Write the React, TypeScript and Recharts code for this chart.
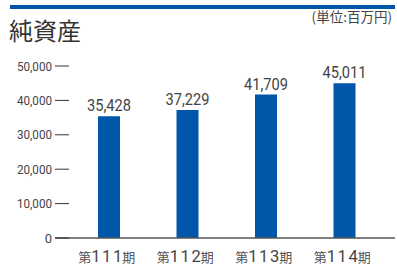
import React from 'react';
import { BarChart, Bar, XAxis, YAxis, LabelList } from 'recharts';

const periods = ['111', '112', '113', '114'];
const netAssets = [35428, 37229, 41709, 45011];
const yTicks = [0, 10000, 20000, 30000, 40000, 50000];

const data = periods.map((p, i) => ({ period: p, value: netAssets[i] }));

const fmt = (v: number) => v.toLocaleString('en-US');

const YTick = (props: any) => {
  const { x, y, payload } = props;
  const s = fmt(payload.value);
  return (
    <g>
      <text
        x={x - 3}
        y={y}
        dy={4.5}
        textAnchor="end"
        fontSize={13}
        fill="#444"
        fontFamily="Roboto"
        textLength={s.length > 1 ? 35 : undefined}
        lengthAdjust="spacingAndGlyphs"
      >
        {s}
      </text>
      <line x1={x} x2={x + 14} y1={y} y2={y} stroke="#333" strokeWidth={1} />
    </g>
  );
};

const XTick = (props: any) => {
  const { x, y, payload } = props;
  return (
    <g>
      <text x={x - 31} y={y + 23.5} fontSize={13} fill="#555" fontFamily="'Noto Sans CJK JP'">第</text>
      <text
        x={x - 18}
        y={y + 24}
        fontSize={16.5}
        fill="#444"
        fontFamily="Roboto"
        textLength={31}
        lengthAdjust="spacing"
      >
        {payload.value}
      </text>
      <text x={x + 13} y={y + 23.5} fontSize={13} fill="#555" fontFamily="'Noto Sans CJK JP'">期</text>
    </g>
  );
};

const ValueLabel = (props: any) => {
  const { x, y, width, value } = props;
  return (
    <text
      x={x + width / 2 - 22}
      y={y - 5}
      fontSize={16.5}
      fill="#444"
      fontFamily="Roboto"
      textLength={44}
      lengthAdjust="spacingAndGlyphs"
    >
      {fmt(Number(value))}
    </text>
  );
};

export default function App() {
  return (
    <div style={{ position: 'absolute', left: 0, top: 0, width: 397, height: 265, background: '#fff' }}>
      <svg width={397} height={265} style={{ position: 'absolute', left: 0, top: 0 }}>
        <rect x={10} y={5} width={385} height={4} fill="#0056a8" />
        <text x={9} y={40} fontSize={24} fill="#333" fontFamily="'Noto Sans CJK JP'">純資産</text>
        <text x={392} y={22} fontSize={13.5} fill="#444" textAnchor="end" fontFamily="'Noto Sans CJK JP'">(単位:百万円)</text>
      </svg>
      <div style={{ position: 'absolute', left: 0, top: 0 }}>
        <BarChart width={397} height={265} data={data} margin={{ top: 66, right: 2, bottom: 0, left: 0 }}>
          <YAxis
            width={55}
            domain={[0, 50000]}
            ticks={yTicks}
            axisLine={false}
            tickLine={false}
            tickSize={0}
            tickMargin={0}
            tick={<YTick />}
            interval={0}
          />
          <XAxis
            dataKey="period"
            height={27}
            padding={{ left: 15, right: 11 }}
            axisLine={{ stroke: '#555', strokeWidth: 1.5 }}
            tickLine={false}
            tickSize={0}
            tickMargin={0}
            tick={<XTick />}
            interval={0}
          />
          <Bar dataKey="value" fill="#0056a8" barSize={22} isAnimationActive={false}>
            <LabelList dataKey="value" content={<ValueLabel />} />
          </Bar>
        </BarChart>
      </div>
    </div>
  );
}
